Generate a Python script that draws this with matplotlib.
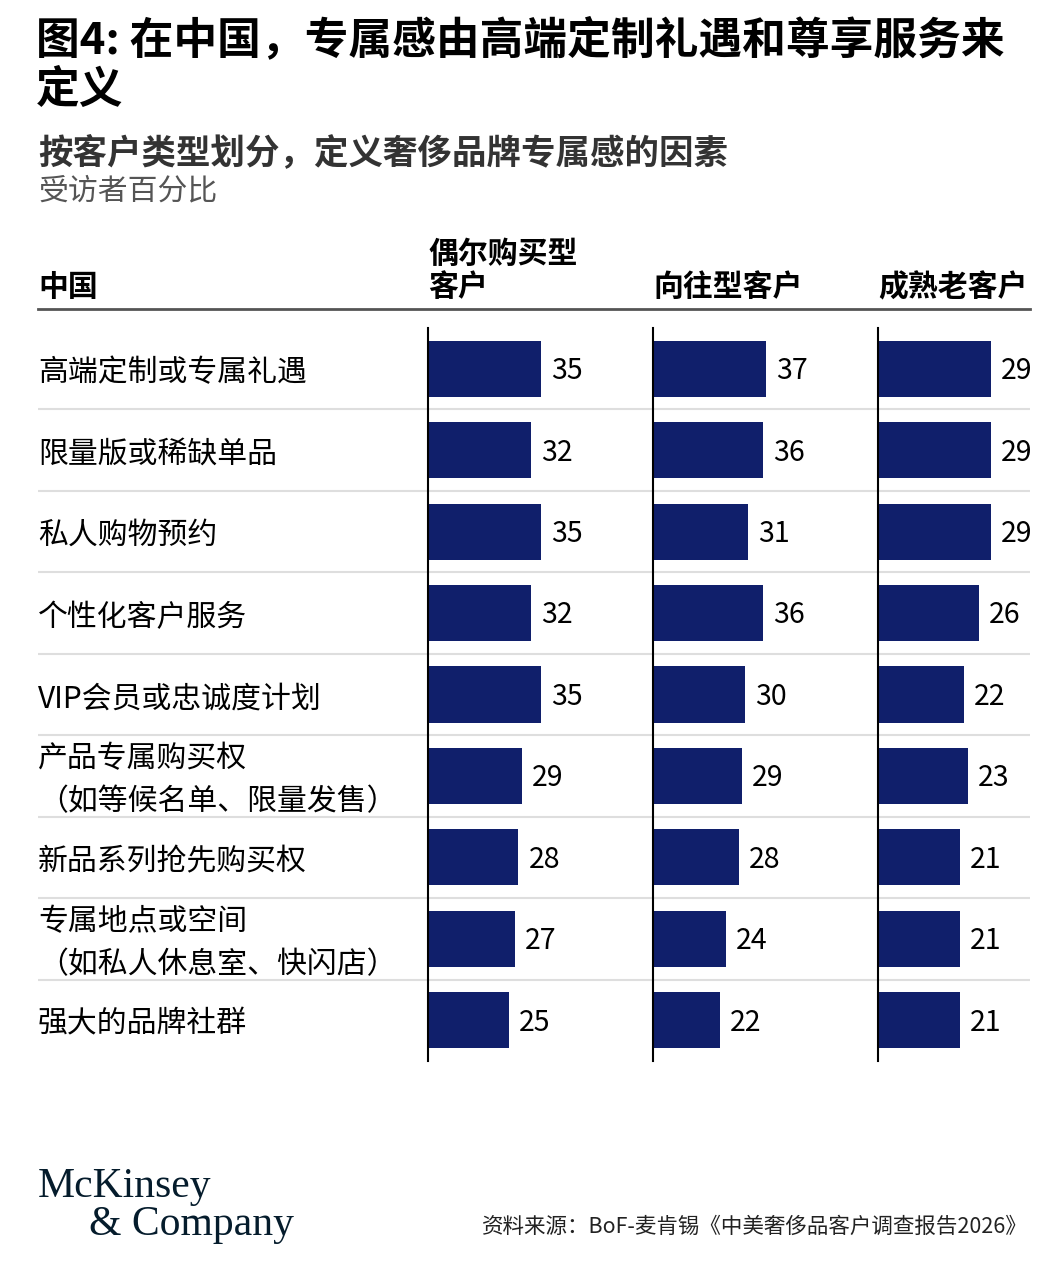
import matplotlib.pyplot as plt
from matplotlib.lines import Line2D

plt.rcParams['font.family'] = ['Noto Sans CJK SC', 'DejaVu Sans']

# 数据
factors = [
    '高端定制或专属礼遇',
    '限量版或稀缺单品',
    '私人购物预约',
    '个性化客户服务',
    'VIP会员或忠诚度计划',
    '产品专属购买权\n（如等候名单、限量发售）',
    '新品系列抢先购买权',
    '专属地点或空间\n（如私人休息室、快闪店）',
    '强大的品牌社群',
]
groups = ['偶尔购买型\n客户', '向往型客户', '成熟老客户']
occasional = [35, 32, 35, 32, 35, 29, 28, 27, 25]
aspiring = [37, 36, 31, 36, 30, 29, 28, 24, 22]
loyal = [29, 29, 29, 26, 22, 23, 21, 21, 21]
series = [occasional, aspiring, loyal]

W, H = 1062, 1280
fig = plt.figure(figsize=(W / 100, H / 100), dpi=100)
fig.patch.set_facecolor('white')


def fx(px):
    return px / W


def fy(py):
    return 1 - py / H


BAR_COLOR = '#101f6b'

# 标题
fig.text(fx(36), fy(18), '图4: 在中国，专属感由高端定制礼遇和尊享服务来\n定义',
         fontsize=31.5, fontweight='bold', color='black', va='top',
         linespacing=1.17)
fig.text(fx(38), fy(163), '按客户类型划分，定义奢侈品牌专属感的因素',
         fontsize=24.8, fontweight='bold', color='#333333', va='baseline')
fig.text(fx(38), fy(199), '受访者百分比', fontsize=21.5, color='#555555', va='baseline')

# 表头
fig.text(fx(38), fy(296), '中国', fontsize=21.5, fontweight='bold', va='baseline')
head_x = [428, 653, 878]
for hx, g in zip(head_x, groups):
    fig.text(fx(hx), fy(296), g, fontsize=21.5, fontweight='bold',
             va='baseline', linespacing=1.12)
fig.add_artist(Line2D([fx(38), fx(1030)], [fy(309), fy(309)],
                      color='#555555', lw=2))

# 背景轴：行标签和分隔线
top, bottom = 328, 1061
ax_bottom = fy(bottom)
ax_h = (bottom - top) / H
n = len(factors)

bg = fig.add_axes([fx(38), ax_bottom, fx(1030 - 38), ax_h])
bg.set_xlim(0, 1)
bg.set_ylim(n - 0.5, -0.5)
bg.axis('off')
for i in range(n - 1):
    bg.axhline(i + 0.5, color='#dedede', lw=1.5)
for i, lab in enumerate(factors):
    bg.text(0, i + 0.05, lab, fontsize=21.5, va='center', ha='left', linespacing=1.5)

# 三个条形图面板
panel_w = 180
for hx, vals in zip(head_x, series):
    ax = fig.add_axes([fx(hx), ax_bottom, fx(panel_w), ax_h])
    ax.patch.set_alpha(0)
    ax.set_xlim(0, max(vals) * panel_w / 113)
    ax.set_ylim(n - 0.5, -0.5)
    ax.barh(range(n), vals, height=0.69, color=BAR_COLOR)
    for i, v in enumerate(vals):
        ax.text(v + max(vals) * 10 / 113, i + 0.03, str(v), fontsize=20.5,
                va='center', ha='left', color='black')
    for s in ['top', 'right', 'bottom']:
        ax.spines[s].set_visible(False)
    ax.spines['left'].set_color('black')
    ax.spines['left'].set_linewidth(1.5)
    ax.set_xticks([])
    ax.set_yticks([])

# 页脚
fig.text(fx(38), fy(1197), 'McKinsey', fontsize=30, family='Liberation Serif',
         color='#051c2c', va='baseline')
fig.text(fx(89), fy(1235), '& Company', fontsize=30, family='Liberation Serif',
         color='#051c2c', va='baseline')
fig.text(fx(1028), fy(1233), '资料来源：BoF-麦肯锡《中美奢侈品客户调查报告2026》',
         fontsize=15.5, color='#222222', ha='right', va='baseline')

fig.savefig('out.png', dpi=100, facecolor='white')
